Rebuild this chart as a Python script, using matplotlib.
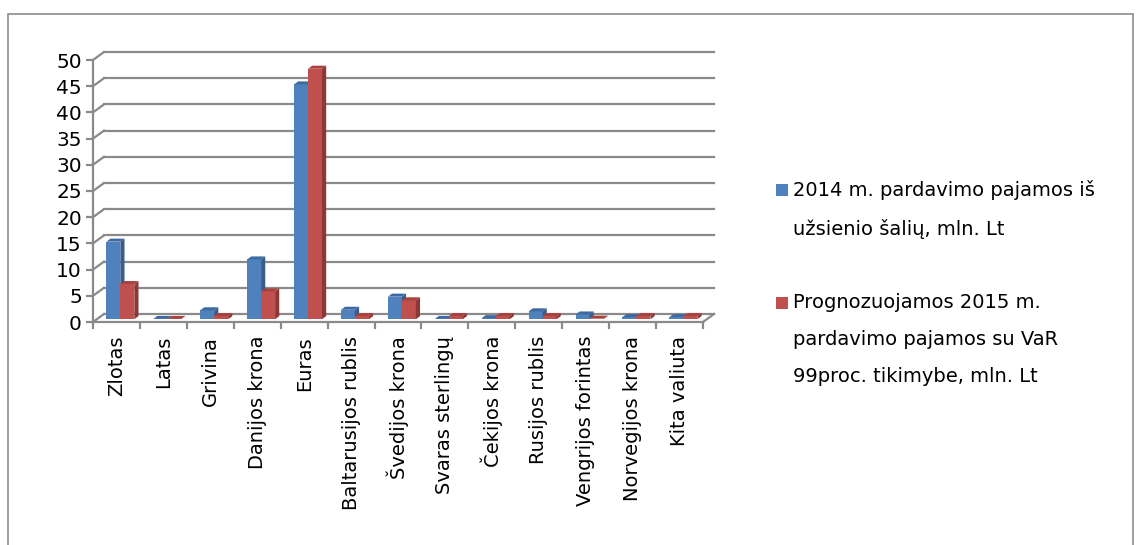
import matplotlib.pyplot as plt
from matplotlib.patches import Polygon, Rectangle

categories = ['Zlotas', 'Latas', 'Grivina', 'Danijos krona', 'Euras',
              'Baltarusijos rublis', 'Švedijos krona', 'Svaras sterlingų',
              'Čekijos krona', 'Rusijos rublis', 'Vengrijos forintas',
              'Norvegijos krona', 'Kita valiuta']
sales_2014 = [14.8, 0.05, 1.7, 11.4, 44.8, 1.8, 4.3, 0.05, 0.2, 1.5, 0.9, 0.4, 0.4]
var_2015 = [6.7, 0.05, 0.6, 5.3, 47.8, 0.6, 3.6, 0.6, 0.6, 0.6, 0.1, 0.6, 0.6]
series_labels = ['2014 m. pardavimo pajamos iš\nužsienio šalių, mln. Lt',
                 'Prognozuojamos 2015 m.\npardavimo pajamos su VaR\n99proc. tikimybe, mln. Lt']
y_ticks = list(range(0, 51, 5))

W, H = 1141, 545
fig = plt.figure(figsize=(W / 100, H / 100), dpi=100)
ax = fig.add_axes([93 / W, (H - 322) / H, 610 / W, 262 / H])
n = len(categories)
ax.set_xlim(0, n)
ax.set_ylim(0, 50)

# pixel -> data conversion for the fake 3D depth
px_x = 610 / n
px_y = 262 / 50
depth_x, depth_y = 11 / px_x, 8 / px_y
grid_c = '#8a8a8a'

# back wall gridlines + diagonals
for v in y_ticks:
    ax.plot([depth_x, n + depth_x], [v + depth_y, v + depth_y], color=grid_c, lw=1.6, clip_on=False, zorder=1)
    ax.plot([0, depth_x], [v, v + depth_y], color=grid_c, lw=1.6, clip_on=False, zorder=1)
ax.plot([n, n + depth_x], [0, depth_y], color=grid_c, lw=1.6, clip_on=False, zorder=1)

# bars
colors = [('#4f81bd', '#385d8a', '#3e6aa3'), ('#c0504d', '#8c3836', '#a8423f')]
bar_w = 14 / px_x
gap = (1 - 2 * bar_w) / 2
off_x, off_y = 0.35 * depth_x, 0.35 * depth_y
bd_x, bd_y = 0.38 * depth_x, 0.38 * depth_y
for i in range(n):
    for s, vals in enumerate([sales_2014, var_2015]):
        v = vals[i]
        front, side, top = colors[s]
        x0 = i + gap + s * bar_w + off_x
        x1 = x0 + bar_w
        ax.bar(x0, v, width=bar_w, bottom=off_y, align='edge', color=front,
               edgecolor='none', clip_on=False, zorder=3)
        ax.add_patch(Polygon([(x1, off_y), (x1 + bd_x, off_y + bd_y),
                              (x1 + bd_x, off_y + v + bd_y), (x1, off_y + v)],
                             closed=True, facecolor=side, edgecolor='none', clip_on=False, zorder=3))
        t = off_y + v
        ax.add_patch(Polygon([(x0, t), (x1, t), (x1 + bd_x, t + bd_y), (x0 + bd_x, t + bd_y)],
                             closed=True, facecolor=top, edgecolor='none', clip_on=False, zorder=3))

# axes styling
for sp in ['top', 'right']:
    ax.spines[sp].set_visible(False)
for sp in ['left', 'bottom']:
    ax.spines[sp].set_color(grid_c)
    ax.spines[sp].set_linewidth(1.6)
ax.set_yticks(y_ticks)
ax.set_yticklabels([str(v) for v in y_ticks], fontsize=14.5)
ax.tick_params(axis='y', length=5, width=1.6, color=grid_c, pad=3)
ax.set_xticks([i + 0.5 for i in range(n)])
ax.set_xticklabels(categories, rotation=90, fontsize=14, va='top')
ax.set_xticks(range(n + 1), minor=True)
ax.tick_params(axis='x', which='major', length=0, pad=10)
ax.tick_params(axis='x', which='minor', length=5, width=1.6, color=grid_c)
ax.patch.set_visible(False)

# legend (manual, marker aligned with first line)
leg_y = [190, 303]
for s, lab in enumerate(series_labels):
    yc = leg_y[s]
    fig.patches.append(Rectangle((776 / W, (H - yc - 6) / H), 12 / W, 12 / H,
                                 transform=fig.transFigure, facecolor=colors[s][0],
                                 edgecolor='none'))
    fig.text(793 / W, (H - yc + 10) / H, lab, fontsize=14, va='top', ha='left',
             linespacing=2.2, transform=fig.transFigure)

# outer frame
fig.patches.append(Rectangle((8 / W, -0.05), 1125 / W, (H - 14) / H + 0.05,
                             transform=fig.transFigure, facecolor='none',
                             edgecolor='#8c8c8c', lw=1.2))

fig.savefig('out.png', dpi=100)
